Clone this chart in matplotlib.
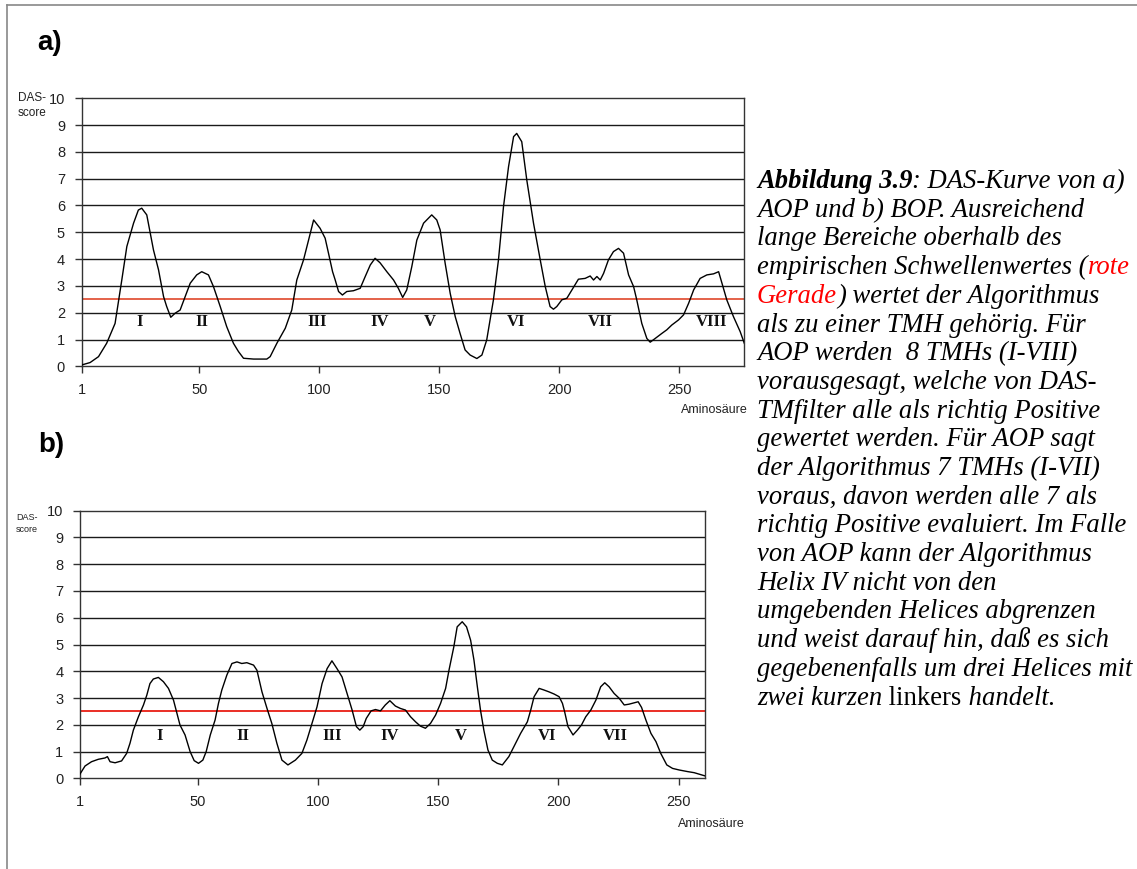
import matplotlib
matplotlib.use("Agg")
import matplotlib.pyplot as plt
from matplotlib.lines import Line2D

W, H, DPI = 1137, 869, 100

# ---- a) AOP: DAS score along the sequence ----
aop_pos = [1, 4.5, 8.0, 11.4, 14.9, 17.7, 19.8, 22.6, 24.6, 26.0, 28.1, 30.9, 33.0,
           35.1, 36.4, 38.1, 39.9, 42.0, 44.1, 46.2, 48.9, 51.0, 53.8, 55.9, 58.7,
           61.4, 64.2, 66.3, 68.4, 72.6, 78.1, 79.5, 82.3, 85.8, 88.5, 90.6, 93.4,
           95.5, 97.6, 100.3, 102.4, 103.8, 105.5, 106.6, 108.0, 109.6, 111.4, 114.2,
           117.0, 119.1, 121.2, 123.2, 125.3, 128.1, 130.9, 132.9, 134.7, 136.4,
           138.5, 140.6, 143.4, 146.8, 148.9, 150.3, 152.4, 154.5, 156.6, 158.6,
           160.7, 162.8, 165.6, 167.7, 169.7, 172.5, 174.6, 176.7, 178.8, 180.9,
           182.2, 184.3, 186.4, 189.2, 192.0, 194.1, 196.1, 197.5, 198.9, 201.0,
           203.1, 205.2, 207.9, 210.7, 212.8, 214.2, 215.6, 217.0, 218.4, 220.4,
           222.5, 224.6, 226.7, 228.8, 230.9, 232.2, 234.3, 236.4, 237.8, 239.9,
           242.7, 244.7, 246.8, 249.6, 251.7, 253.8, 255.9, 258.6, 261.4, 264.2,
           266.3, 267.7, 269.7, 272.5, 275.3, 277.0]
aop_score = [0.05, 0.14, 0.36, 0.86, 1.6, 3.22, 4.47, 5.34, 5.83, 5.9, 5.65, 4.34, 3.6,
             2.6, 2.23, 1.83, 1.98, 2.1, 2.6, 3.1, 3.41, 3.53, 3.41, 2.97, 2.23,
             1.48, 0.86, 0.55, 0.3, 0.27, 0.27, 0.36, 0.86, 1.42, 2.1, 3.22, 3.97,
             4.71, 5.46, 5.15, 4.78, 4.22, 3.53, 3.22, 2.79, 2.66, 2.79, 2.82,
             2.91, 3.35, 3.78, 4.03, 3.86, 3.53, 3.22, 2.91, 2.57, 2.85,
             3.72, 4.71, 5.34, 5.65, 5.46, 5.09, 3.84, 2.72, 1.85, 1.23,
             0.61, 0.42, 0.29, 0.42, 0.98, 2.48, 3.97, 5.96, 7.45, 8.57,
             8.69, 8.38, 6.95, 5.34, 3.97, 2.97, 2.23, 2.13, 2.23, 2.48,
             2.54, 2.85, 3.25, 3.28, 3.37, 3.22, 3.35, 3.22, 3.47, 3.97,
             4.28, 4.4, 4.22, 3.41, 2.97, 2.48, 1.6, 1.04, 0.9, 1.04,
             1.23, 1.36, 1.54, 1.73, 1.92, 2.35, 2.85, 3.28, 3.41, 3.45,
             3.53, 3.1, 2.48, 1.85, 1.29, 0.86]
aop_helices = ["I", "II", "III", "IV", "V", "VI", "VII", "VIII"]
aop_helix_pos = [25.3, 51.1, 98.9, 125.3, 145.8, 182, 217, 263.5]

# ---- b) BOP: DAS score along the sequence ----
bop_pos = [1, 3.1, 5.8, 8.6, 11.4, 12.4, 13.5, 15.6, 18.3, 20.4, 21.8, 23.2, 25.3,
           27.4, 28.8, 30.1, 31.5, 33.6, 35.7, 37.8, 39.9, 41.3, 42.6, 44.7, 46.8,
           48.5, 50.3, 52.1, 53.5, 55.2, 57.2, 58.6, 60.0, 62.1, 64.2, 66.3, 68.3,
           70.4, 73.2, 74.6, 76.7, 78.8, 80.8, 82.9, 85.0, 87.5, 90.6, 93.3, 95.4,
           97.5, 99.6, 101.7, 103.8, 105.8, 107.9, 110.0, 112.1, 114.2, 116.0,
           117.4, 118.8, 120.1, 122.1, 123.9, 126.0, 128.0, 129.9, 132.2, 134.3,
           136.4, 138.5, 140.6, 142.6, 144.7, 146.8, 148.9, 151.0, 153.1, 154.5,
           156.5, 157.9, 160.0, 161.8, 163.5, 164.9, 166.3, 167.6, 169.0, 170.7,
           172.5, 174.6, 176.7, 179.4, 181.5, 184.3, 187.1, 188.5, 189.9, 192.0,
           194.0, 196.1, 198.2, 200.3, 201.7, 202.6, 204.0, 206.1, 207.9, 209.6,
           211.4, 213.5, 215.6, 217.6, 219.3, 221.1, 223.2, 225.3, 227.4, 229.4,
           231.5, 233.2, 234.6, 236.4, 238.5, 240.6, 242.6, 245.1, 247.5, 250.3,
           253.8, 256.5, 261.0]
bop_score = [0.16, 0.46, 0.62, 0.71, 0.76, 0.81, 0.62, 0.58, 0.65, 0.93, 1.31, 1.8, 2.3,
             2.74, 3.11, 3.54, 3.71, 3.77, 3.61, 3.36, 2.92, 2.43, 1.99, 1.62, 1.0,
             0.66, 0.56, 0.68, 1.0, 1.62, 2.18, 2.8, 3.3, 3.86, 4.29, 4.35, 4.29,
             4.32, 4.23, 4.04, 3.23, 2.61, 2.05, 1.31, 0.68, 0.5, 0.68, 0.93, 1.43,
             2.05, 2.67, 3.54, 4.1, 4.39, 4.1, 3.79, 3.17, 2.55, 1.93,
             1.8, 1.93, 2.24, 2.52, 2.57, 2.52, 2.74, 2.9, 2.7, 2.61,
             2.55, 2.3, 2.11, 1.95, 1.87, 2.05, 2.36, 2.8, 3.36, 4.04,
             4.91, 5.66, 5.85, 5.66, 5.16, 4.41, 3.42, 2.55, 1.8, 1.06,
             0.68, 0.56, 0.5, 0.81, 1.18, 1.68, 2.11, 2.55, 3.05, 3.36,
             3.3, 3.23, 3.15, 3.05, 2.8, 2.49, 1.93, 1.62, 1.8, 1.99,
             2.3, 2.55, 2.92, 3.42, 3.57, 3.42, 3.17, 2.99, 2.74, 2.77,
             2.82, 2.86, 2.65, 2.18, 1.68, 1.37, 0.93, 0.5, 0.37, 0.31,
             0.25, 0.21, 0.09]
bop_helices = ["I", "II", "III", "IV", "V", "VI", "VII"]
bop_helix_pos = [34, 68.8, 105.9, 129.75, 159.3, 195.2, 223.6]

threshold = 2.5
x_ticks = [1, 50, 100, 150, 200, 250]
y_ticks = list(range(0, 11))

SANS = "Liberation Sans"
SERIF = "Liberation Serif"

fig = plt.figure(figsize=(W / DPI, H / DPI), dpi=DPI)
fig.patch.set_facecolor("white")


def px_rect(left, top, right, bottom):
    return [left / W, 1 - bottom / H, (right - left) / W, (bottom - top) / H]


def ftext(x, y, s, **kw):
    return fig.text(x / W, 1 - y / H, s, **kw)


def draw_panel(rect, pos, score, x_max, helices, helix_pos, helix_y, red,
               das_xy, das_fs, amino_xy, panel_label, label_xy):
    ax = fig.add_axes(rect)
    ax.set_xlim(1, x_max)
    ax.set_ylim(0, 10)
    for v in y_ticks[1:-1]:
        ax.axhline(v, color="#1a1a1a", lw=1.0, zorder=1)
    ax.axhline(threshold, color=red, lw=1.3, zorder=2)
    ax.plot(pos, score, color="black", lw=1.0, zorder=3)
    for name, hx in zip(helices, helix_pos):
        ax.text(hx, helix_y, name, ha="center", va="center", fontsize=12,
                family=SERIF, fontweight="bold", color="#111111", zorder=4)
    ax.set_xticks(x_ticks)
    ax.set_yticks(y_ticks)
    ax.tick_params(direction="out", length=5, width=1.0, color="#333333",
                   labelsize=10.5, pad=7, labelcolor="#222222")
    for lab in ax.get_xticklabels() + ax.get_yticklabels():
        lab.set_family(SANS)
    for sp in ax.spines.values():
        sp.set_color("#333333")
        sp.set_linewidth(1.0)
    ftext(das_xy[0], das_xy[1], "DAS-", fontsize=das_fs, family=SANS,
          ha="left", va="center", color="#222222")
    ftext(das_xy[0], das_xy[1] + das_fs * 1.75, "score", fontsize=das_fs,
          family=SANS, ha="left", va="center", color="#222222")
    ftext(amino_xy[0], amino_xy[1], "Aminosäure", fontsize=9, family=SANS,
          ha="right", va="center", color="#222222")
    ftext(label_xy[0], label_xy[1], panel_label, fontsize=20, family=SANS,
          fontweight="bold", ha="left", va="center", color="black")
    return ax


draw_panel(px_rect(81.7, 98.3, 744.3, 366.3), aop_pos, aop_score, 277,
           aop_helices, aop_helix_pos, 1.65, "#e2553c",
           (18, 98), 8.5, (748, 410), "a)", (37, 43))
draw_panel(px_rect(80, 510.7, 705, 778.3), bop_pos, bop_score, 261,
           bop_helices, bop_helix_pos, 1.58, "#e81e14",
           (16, 518), 6.5, (745, 824), "b)", (38, 445))

# page frame
fig.add_artist(Line2D([7 / W, 1.0], [1 - 5 / H, 1 - 5 / H], color="#888888", lw=1.2))
fig.add_artist(Line2D([7 / W, 7 / W], [1 - 5 / H, 0.0], color="#888888", lw=1.2))

# caption
IT = dict(family=SERIF, style="italic")
BIT = dict(family=SERIF, style="italic", weight="bold")
UP = dict(family=SERIF, style="normal")
RED = "#ff0000"
caption = [
    [("Abbildung 3.9", BIT, "black"), (": DAS-Kurve von a)", IT, "black")],
    [("AOP und b) BOP. Ausreichend", IT, "black")],
    [("lange Bereiche oberhalb des", IT, "black")],
    [("empirischen Schwellenwertes (", IT, "black"), ("rote", IT, RED)],
    [("Gerade", IT, RED), (") wertet der Algorithmus", IT, "black")],
    [("als zu einer TMH gehörig. Für", IT, "black")],
    [("AOP werden  8 TMHs (I-VIII)", IT, "black")],
    [("vorausgesagt, welche von DAS-", IT, "black")],
    [("TMfilter alle als richtig Positive", IT, "black")],
    [("gewertet werden. Für AOP sagt", IT, "black")],
    [("der Algorithmus 7 TMHs (I-VII)", IT, "black")],
    [("voraus, davon werden alle 7 als", IT, "black")],
    [("richtig Positive evaluiert. Im Falle", IT, "black")],
    [("von AOP kann der Algorithmus", IT, "black")],
    [("Helix IV nicht von den", IT, "black")],
    [("umgebenden Helices abgrenzen", IT, "black")],
    [("und weist darauf hin, daß es sich", IT, "black")],
    [("gegebenenfalls um drei Helices mit", IT, "black")],
    [("zwei kurzen", IT, "black"), (" linkers", UP, "black"), (" handelt.", IT, "black")],
]
CAP_FS = 19.2
cap_x0, cap_y0, cap_dy = 757, 188, 28.7
renderer = fig.canvas.get_renderer()
for i, line in enumerate(caption):
    x = cap_x0
    y = cap_y0 + i * cap_dy
    for seg, style, col in line:
        t = ftext(x, y, seg, fontsize=CAP_FS, color=col, ha="left",
                  va="baseline", **style)
        bb = t.get_window_extent(renderer)
        x = bb.x1

fig.savefig("out.png", dpi=DPI, facecolor="white")
